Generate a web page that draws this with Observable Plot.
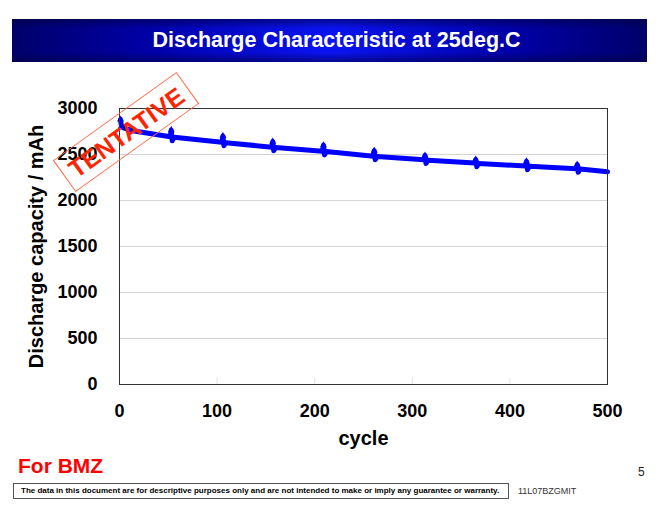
<!DOCTYPE html>
<html>
<head>
<meta charset="utf-8">
<script src="https://cdn.jsdelivr.net/npm/d3@7"></script>
<script src="https://cdn.jsdelivr.net/npm/@observablehq/plot@0.6"></script>
<style>
  html, body { margin: 0; padding: 0; background: #fff; }
  body { width: 658px; height: 512px; position: relative; overflow: hidden; font-family: "Liberation Sans", Arial, sans-serif; }
  #banner { position: absolute; left: 12px; top: 19px; width: 635px; height: 43px; box-sizing: border-box; padding-left: 14px;
    background:
      linear-gradient(to bottom, rgba(0,0,60,0.55) 0%, rgba(0,0,60,0) 22%, rgba(0,0,60,0) 78%, rgba(0,0,60,0.55) 100%),
      linear-gradient(to right, #00006a 0%, #0000a8 22%, #0a14f2 50%, #0000a8 78%, #00006a 100%);
    color: #fff; font-weight: bold; font-size: 21.5px; text-align: center; line-height: 43px; }
  #chart { position: absolute; left: 0; top: 0; }
  #stamp { position: absolute; left: 125.5px; top: 131.5px; width: 150px; height: 37px;
    transform: translate(-50%, -50%) rotate(-35.6deg); border: 1px solid #ff6a4a;
    color: #ff2400; font-weight: bold; font-size: 25px; line-height: 38px; text-align: center; }
  #forbmz { position: absolute; left: 18px; top: 454px; color: #ff0000; font-weight: bold; font-size: 21px; }
  #note { position: absolute; left: 13px; top: 483px; border: 1px solid #555;
    font-size: 8px; font-weight: bold; line-height: 14px; padding-left: 7px; box-sizing: border-box; width: 496px; height: 16px; white-space: nowrap; }
  #code { position: absolute; left: 518px; top: 486px; font-size: 9px; color: #333; }
  #page { position: absolute; left: 638px; top: 465px; font-size: 12px; color: #222; }
</style>
</head>
<body>
<div id="banner">Discharge Characteristic at 25deg.C</div>
<div id="chart"></div>
<div id="stamp">TENTATIVE</div>
<div id="forbmz">For BMZ</div>
<div id="note">The data in this document are for descriptive purposes only and are not intended to make or imply any guarantee or warranty.</div>
<div id="code">11L07BZGMIT</div>
<div id="page">5</div>
<script>
// Discharge capacity vs cycle (main trace incl. periodic check spikes)
const cycle = [1, 2, 4, 15, 52, 53, 54, 56, 105, 106, 107, 109, 156, 157, 158, 160,
  208, 209, 210, 212, 260, 261, 262, 264, 312, 313, 314, 316, 364, 365, 366, 368,
  416, 417, 418, 420, 468, 469, 470, 472, 500];
const capacity = [2880, 2808, 2790, 2755, 2692, 2765, 2650, 2688, 2632, 2700, 2595, 2628,
  2580, 2640, 2540, 2576, 2536, 2600, 2496, 2532, 2482, 2540, 2442, 2478,
  2442, 2490, 2402, 2438, 2407, 2445, 2367, 2403, 2375, 2425, 2335, 2371,
  2346, 2390, 2306, 2342, 2312];
// Check-point markers (triangles)
const checkCycle = [1, 2, 53, 106, 157, 209, 261, 313, 365, 417, 469];
const checkCap = [2880, 2808, 2765, 2700, 2640, 2600, 2540, 2490, 2445, 2425, 2390];
const xTicks = [0, 100, 200, 300, 400, 500];
const yTicks = [0, 500, 1000, 1500, 2000, 2500, 3000];
const xLabel = "cycle";
const yLabel = "Discharge capacity / mAh";

const series = cycle.map((c, i) => ({cycle: c, cap: capacity[i]}));
const checks = checkCycle.map((c, i) => ({cycle: c, cap: checkCap[i]}));
const blue = "#0000ff";
const plain = d => String(d);

const chart = Plot.plot({
  width: 658, height: 512,
  marginLeft: 119, marginRight: 51, marginTop: 108, marginBottom: 128,
  style: {fontFamily: "Liberation Sans, Arial, sans-serif", background: "transparent", color: "#000"},
  x: {domain: [0, 500]},
  y: {domain: [0, 3000]},
  marks: [
    Plot.gridY(yTicks.slice(1, -1), {stroke: "#d4d4d4", strokeOpacity: 1}),
    Plot.axisX({ticks: xTicks.slice(1, -1), tickSize: -6, stroke: "#e2e2e2", strokeOpacity: 1, tickFormat: () => "", label: null}),
    Plot.line(series, {x: "cycle", y: "cap", stroke: blue, strokeWidth: 5, strokeLinejoin: "round", strokeLinecap: "round"}),
    Plot.dot(checks, {x: "cycle", y: "cap", symbol: "triangle", r: 2.6, fill: blue}),
    Plot.frame({stroke: "#333", strokeOpacity: 1}),
    Plot.axisY({ticks: yTicks, tickSize: 0, tickPadding: 22, tickFormat: plain, fontSize: 18, fontWeight: "bold", label: null}),
    Plot.axisX({ticks: xTicks, tickSize: 0, tickPadding: 20, tickFormat: plain, fontSize: 18, fontWeight: "bold", label: null}),
    Plot.text([xLabel], {frameAnchor: "bottom", dy: 60, fontSize: 20, fontWeight: "bold", fill: "#000"}),
    Plot.text([yLabel], {frameAnchor: "left", textAnchor: "middle", dx: -83, rotate: -90, fontSize: 20, fontWeight: "bold", fill: "#000"})
  ]
});
document.getElementById("chart").appendChild(chart);
</script>
</body>
</html>
